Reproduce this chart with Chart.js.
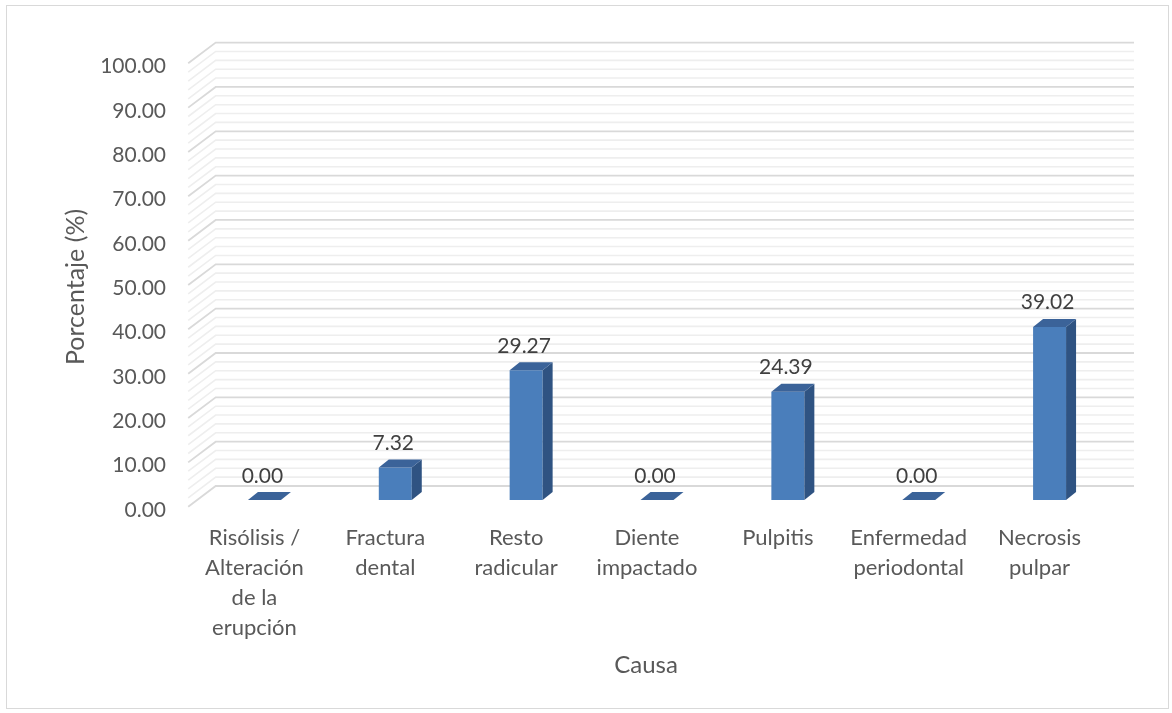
<!DOCTYPE html>
<html><head><meta charset="utf-8">
<script src="https://cdn.jsdelivr.net/npm/chart.js@4"></script>
<style>html,body{margin:0;padding:0;background:#fff}canvas{display:block}</style>
</head><body>
<canvas id="c" width="1172" height="713"></canvas>
<script>
// ---- data ----
const categories = [
  ["Risólisis /", "Alteración", "de la", "erupción"],
  ["Fractura", "dental"],
  ["Resto", "radicular"],
  ["Diente", "impactado"],
  ["Pulpitis"],
  ["Enfermedad", "periodontal"],
  ["Necrosis", "pulpar"]
];
const percentages = [0.00, 7.32, 29.27, 0.00, 24.39, 0.00, 39.02];
const yMin = 0, yMax = 100, yMajorStep = 10, yMinorStep = 2;
const yTitle = "Porcentaje (%)";
const xTitle = "Causa";

// ---- styling ----
const FONT = "Lato";
const TEXT = "#595959";
const BAR_DEPTH = {dx: 10, dy: -8};
const WALL = {fx: -10.8, fy: 6.7, bx: 16.7, by: -14, rightExtra: 19};

const threeD = {
  id: 'threeD',
  beforeDraw(chart) {
    const ctx = chart.ctx;
    ctx.save();
    ctx.strokeStyle = '#d9d9d9';
    ctx.lineWidth = 1;
    ctx.strokeRect(6.5, 5.5, 1162, 703);
    ctx.restore();
  },
  beforeDatasetsDraw(chart) {
    const {ctx, chartArea: ca, scales: {y}} = chart;
    const xf = ca.left + WALL.fx, xb = ca.left + WALL.bx, xr = ca.right + WALL.rightExtra;
    ctx.save();
    for (let v = yMin; v <= yMax + 1e-9; v += yMinorStep) {
      const major = Math.abs(v % yMajorStep) < 1e-9;
      if (major) continue;
      const py = y.getPixelForValue(v);
      ctx.strokeStyle = '#eeeeee';
      ctx.lineWidth = 1.6;
      ctx.beginPath();
      ctx.moveTo(xf, py + WALL.fy); ctx.lineTo(xb, py + WALL.by); ctx.lineTo(xr, py + WALL.by);
      ctx.stroke();
    }
    for (let v = yMin; v <= yMax + 1e-9; v += yMajorStep) {
      const py = y.getPixelForValue(v);
      ctx.strokeStyle = '#d9d9d9';
      ctx.lineWidth = 1.8;
      ctx.beginPath();
      ctx.moveTo(xf, py + WALL.fy); ctx.lineTo(xb, py + WALL.by); ctx.lineTo(xr, py + WALL.by);
      ctx.stroke();
    }
    ctx.restore();
  },
  afterDatasetsDraw(chart) {
    const ctx = chart.ctx;
    const meta = chart.getDatasetMeta(0);
    const {dx, dy} = BAR_DEPTH;
    ctx.save();
    meta.data.forEach((bar, i) => {
      const {x, y, base, width} = bar.getProps(['x', 'y', 'base', 'width'], true);
      const l = x - width / 2, r = x + width / 2;
      if (base - y > 0.5) {
        ctx.fillStyle = '#2f5382';
        ctx.beginPath();
        ctx.moveTo(r, y); ctx.lineTo(r + dx, y + dy); ctx.lineTo(r + dx, base + dy); ctx.lineTo(r, base);
        ctx.closePath(); ctx.fill();
      }
      ctx.fillStyle = '#3b6399';
      ctx.beginPath();
      ctx.moveTo(l, y); ctx.lineTo(l + dx, y + dy); ctx.lineTo(r + dx, y + dy); ctx.lineTo(r, y);
      ctx.closePath(); ctx.fill();
      // data label
      ctx.fillStyle = '#404040';
      ctx.font = '21px ' + FONT;
      ctx.textAlign = 'center';
      ctx.textBaseline = 'alphabetic';
      ctx.fillText(percentages[i].toFixed(2), x - 2, y - 17.5);
    });
    ctx.restore();
  },
  afterDraw(chart) {
    const ctx = chart.ctx;
    ctx.save();
    ctx.fillStyle = TEXT;
    ctx.font = '24px ' + FONT;
    ctx.textAlign = 'center';
    ctx.textBaseline = 'middle';
    ctx.fillText(xTitle, 646, 665);
    ctx.font = '25px ' + FONT;
    ctx.translate(76, 287);
    ctx.rotate(-Math.PI / 2);
    ctx.fillText(yTitle, 0, 0);
    ctx.restore();
  }
};

new Chart(document.getElementById('c'), {
  type: 'bar',
  data: {
    labels: categories,
    datasets: [{
      data: percentages,
      backgroundColor: '#4a7ebb',
      borderWidth: 0,
      categoryPercentage: 1,
      barPercentage: 0.252
    }]
  },
  options: {
    responsive: false,
    animation: false,
    devicePixelRatio: 1,
    layout: {padding: {left: 0, top: 56.6, right: 57, bottom: 0}},
    plugins: {legend: {display: false}, tooltip: {enabled: false}},
    scales: {
      x: {
        grid: {display: false},
        border: {display: false},
        ticks: {
          color: TEXT,
          font: {family: FONT, size: 22, lineHeight: 30 / 22},
          padding: 15,
          labelOffset: -10,
          maxRotation: 0,
          autoSkip: false
        },
        afterFit: s => { s.height = 213; }
      },
      y: {
        min: yMin, max: yMax,
        grid: {display: false},
        border: {display: false},
        ticks: {
          stepSize: yMajorStep,
          color: TEXT,
          font: {family: FONT, size: 21},
          padding: 25,
          labelOffset: 10,
          callback: v => Number(v).toFixed(2)
        },
        afterFit: s => { s.width = 199; }
      }
    }
  },
  plugins: [threeD]
});
</script>
</body></html>
